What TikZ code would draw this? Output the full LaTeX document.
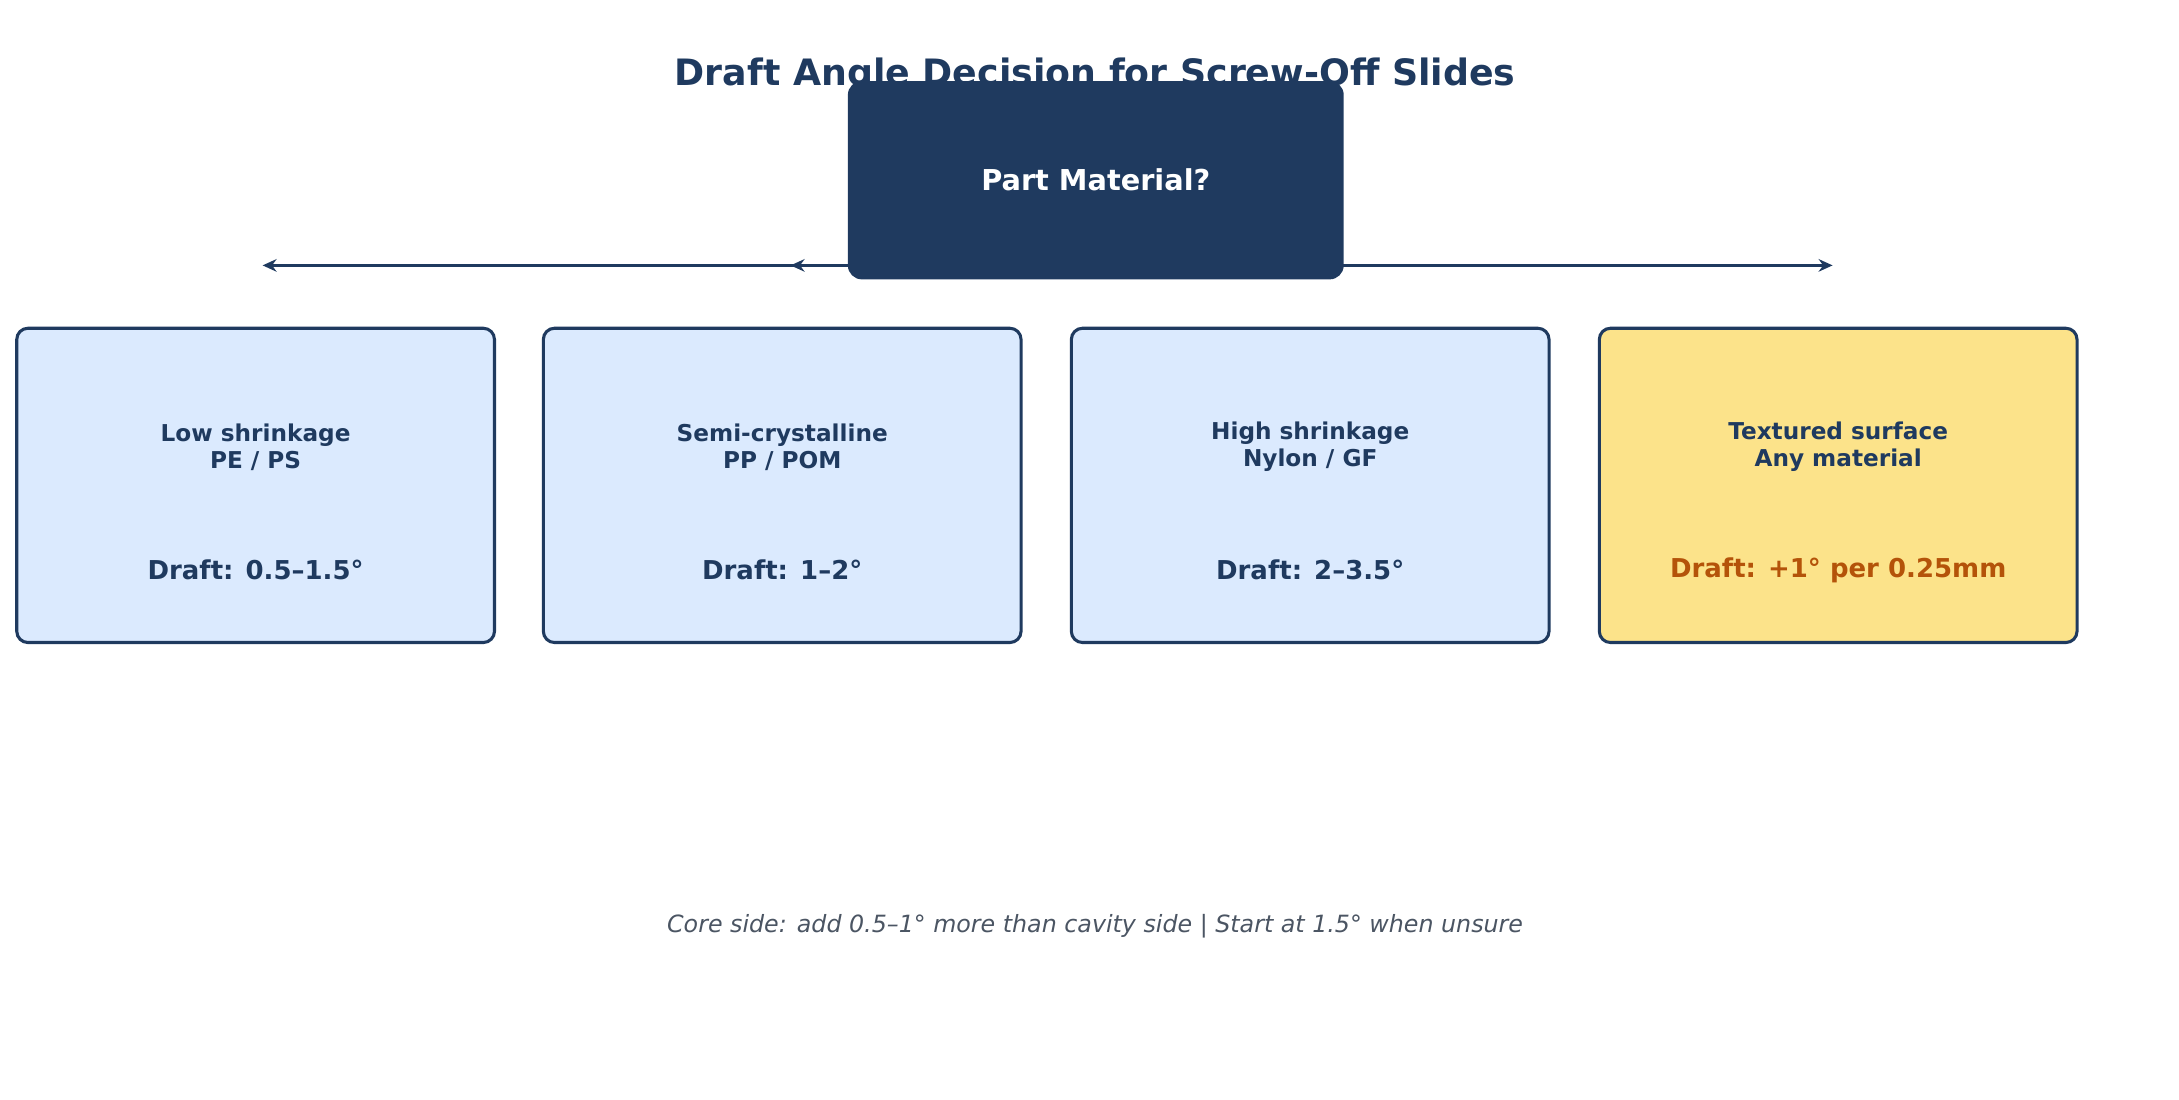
\documentclass[tikz,border=0pt]{standalone}
\usepackage{fontspec}
\setmainfont{DejaVu Sans}
\usetikzlibrary{arrows.meta}
\definecolor{navy}{HTML}{1F3A5F}
\definecolor{lightb}{HTML}{DBEAFE}
\definecolor{yel}{HTML}{FCE38A}
\definecolor{org}{HTML}{B45309}
\definecolor{gry}{HTML}{4B5563}
\begin{document}
\begin{tikzpicture}[x=0.5pt,y=-0.5pt,
  opt/.style={draw=navy,line width=1.1pt,rounded corners=4pt,fill=lightb,minimum width=171pt,minimum height=112.5pt},
  hd/.style={font=\bfseries\fontsize{8.3}{9.6}\selectfont,text=navy,align=center},
  dr/.style={font=\bfseries\fontsize{9.3}{11}\selectfont,text=navy},
  arr/.style={draw=navy,line width=1pt,-{Stealth[length=5pt,width=4.5pt]}}]
\useasboundingbox (0,0) rectangle (1560,787);
\node[font=\bfseries\fontsize{13}{15}\selectfont,text=navy] (title) at (784,54) {Draft Angle Decision for Screw-Off Slides};
\coordinate (c) at (784,190);
\coordinate (e1) at (188,190);
\coordinate (e2) at (566,190);
\coordinate (e4) at (1312,190);
\draw[arr] (c) -- (e1);
\draw[arr] (c) -- (e2);
\draw[arr] (c) -- (e4);
\node[fill=navy,rounded corners=5pt,minimum width=177.5pt,minimum height=71pt,text=white,font=\bfseries\fontsize{10.3}{12}\selectfont] (root) at (784.5,129) {Part Material?};
\node[opt] (b1) at (183,347.5) {};
\node[opt] (b2) at (560,347.5) {};
\node[opt] (b3) at (938,347.5) {};
\node[opt,fill=yel] (b4) at (1316,347.5) {};
\node[hd] (h1) at (183,320) {Low shrinkage\\PE / PS};
\node[hd] (h2) at (560,320) {Semi-crystalline\\PP / POM};
\node[hd] (h3) at (938,320) {High shrinkage\\Nylon / GF};
\node[hd] (h4) at (1316,320) {Textured surface\\Any material};
\node[dr] (d1) at (183,408) {Draft: 0.5–1.5°};
\node[dr] (d2) at (560,408) {Draft: 1–2°};
\node[dr] (d3) at (938,408) {Draft: 2–3.5°};
\node[dr,text=org] (d4) at (1316,408) {Draft: +1° per 0.25mm};
\node[font=\itshape\fontsize{8.5}{10}\selectfont,text=gry] (foot) at (784,663) {Core side: add 0.5–1° more than cavity side | Start at 1.5° when unsure};
\end{tikzpicture}
\end{document}
